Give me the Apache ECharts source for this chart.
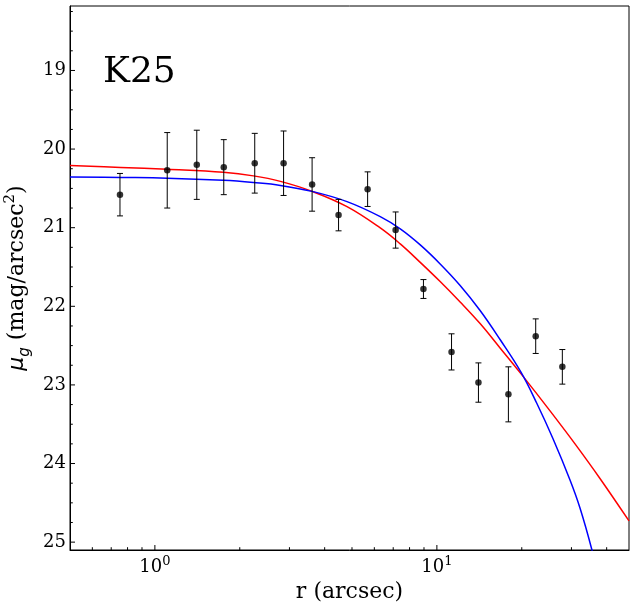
<!DOCTYPE html>
<html>
<head>
<meta charset="utf-8">
<script src="https://cdn.jsdelivr.net/npm/echarts@6/dist/echarts.min.js"></script>
<style>
html, body { margin: 0; padding: 0; background: #fff; }
#chart { width: 634px; height: 608px; }
</style>
</head>
<body>
<div id="chart"></div>
<script>
// measured profile (r in arcsec, mu_g in mag/arcsec^2)
var radius = [0.752, 1.106, 1.408, 1.755, 2.26, 2.86, 3.61, 4.48, 5.68, 7.14, 8.96, 11.27, 14.04, 17.93, 22.41, 27.85];
var mu     = [20.58, 20.27, 20.20, 20.23, 20.18, 20.18, 20.45, 20.84, 20.51, 21.03, 21.78, 22.58, 22.97, 23.12, 22.38, 22.77];
var muErr  = [0.27, 0.48, 0.44, 0.35, 0.38, 0.41, 0.34, 0.20, 0.22, 0.23, 0.12, 0.23, 0.25, 0.35, 0.22, 0.22];

// fitted models
var redR   = [0.5, 0.756, 1.106, 1.751, 2.236, 2.787, 3.610, 4.800, 6.298, 7.415, 8.729, 10.27, 12.09, 14.23, 16.75, 19.89, 25.19, 30.89, 37.87, 48];
var redMu  = [20.21, 20.233, 20.258, 20.296, 20.341, 20.411, 20.538, 20.732, 21.003, 21.206, 21.441, 21.685, 21.945, 22.22, 22.53, 22.86, 23.33, 23.75, 24.19, 24.73];
var blueR  = [0.5, 0.756, 1.106, 1.751, 2.236, 2.787, 3.610, 4.800, 6.298, 7.415, 8.729, 10.27, 12.09, 14.23, 16.75, 19.89, 22.65, 25.81, 29.65, 32.17, 35.39, 37.87];
var blueMu = [20.354, 20.361, 20.37, 20.398, 20.426, 20.462, 20.538, 20.668, 20.859, 21.015, 21.219, 21.461, 21.735, 22.053, 22.422, 22.84, 23.24, 23.685, 24.209, 24.565, 25.087, 25.541];

// ticks
var xMajorTicks = [1, 10];
var xMinorTicks = [0.6, 0.7, 0.8, 0.9, 2, 3, 4, 5, 6, 7, 8, 9, 20, 30, 40];
var yMajorTicks = [19, 20, 21, 22, 23, 24, 25];
var yMinorTicks = [18.25, 18.5, 18.75, 19.25, 19.5, 19.75, 20.25, 20.5, 20.75, 21.25, 21.5, 21.75,
                   22.25, 22.5, 22.75, 23.25, 23.5, 23.75, 24.25, 24.5, 24.75];

var xMin = 0.5, xMax = 48, yMin = 18.18, yMax = 25.1;
var serif = 'DejaVu Serif';

function pairs(a, b) {
    return a.map(function (v, i) { return [v, b[i]]; });
}

var xTickData = xMajorTicks.map(function (v) { return [v, 20, 1]; })
    .concat(xMinorTicks.map(function (v) { return [v, 20, 0]; }));
var yTickData = yMajorTicks.map(function (v) { return [1, v, 1]; })
    .concat(yMinorTicks.map(function (v) { return [1, v, 0]; }));

function ln(x1, y1, x2, y2) {
    return { type: 'line', shape: { x1: x1, y1: y1, x2: x2, y2: y2 }, style: { stroke: '#000', lineWidth: 1 } };
}

var myChart = echarts.init(document.getElementById('chart'));

var option = {
    animation: false,
    title: {
        text: 'K25',
        left: 103,
        top: 55,
        padding: 0,
        textStyle: { fontFamily: serif, fontSize: 36, fontWeight: 'normal', color: '#000' }
    },
    grid: {
        left: 70, right: 5, top: 6, bottom: 58,
        outerBoundsMode: 'none',
        containLabel: false,
        show: true, borderColor: '#000', borderWidth: 1
    },
    xAxis: {
        type: 'log',
        logBase: 10,
        min: xMin,
        max: xMax,
        axisLine: { show: true, lineStyle: { color: '#000', width: 1 } },
        axisTick: { show: false },
        splitLine: { show: false },
        axisLabel: {
            showMinLabel: false,
            showMaxLabel: false,
            margin: 5,
            color: '#000',
            formatter: function (v) {
                return '{b|10}{s|' + Math.round(Math.log10(v)) + '}';
            },
            rich: {
                b: { fontFamily: serif, fontSize: 18, lineHeight: 24, color: '#000' },
                s: { fontFamily: serif, fontSize: 13, lineHeight: 13, verticalAlign: 'top', color: '#000' }
            }
        },
        name: 'r (arcsec)',
        nameLocation: 'middle',
        nameGap: 26,
        nameTextStyle: { fontFamily: serif, fontSize: 22, color: '#000' }
    },
    yAxis: {
        type: 'value',
        inverse: true,
        min: yMin,
        max: yMax,
        splitNumber: 7,
        axisLine: { show: true, lineStyle: { color: '#000', width: 1 } },
        axisTick: { show: false },
        splitLine: { show: false },
        axisLabel: {
            showMinLabel: false,
            showMaxLabel: false,
            margin: 4,
            fontFamily: serif,
            fontSize: 18,
            color: '#000'
        },
        name: '{it|μ}{sub|g} (mag/arcsec{sup|2})',
        nameLocation: 'middle',
        nameGap: 34,
        nameTextStyle: {
            fontFamily: serif, fontSize: 22, color: '#000', lineHeight: 30,
            rich: {
                it: { fontFamily: 'DejaVu Sans', fontStyle: 'italic', fontSize: 22, lineHeight: 30, color: '#000' },
                sub: { fontFamily: 'DejaVu Sans', fontStyle: 'italic', fontSize: 15, lineHeight: 15, verticalAlign: 'bottom', color: '#000' },
                sup: { fontFamily: serif, fontSize: 15, lineHeight: 15, verticalAlign: 'top', color: '#000' }
            }
        }
    },
    series: [
        {
            name: 'red model',
            type: 'line',
            data: pairs(redR, redMu),
            smooth: 0.4,
            showSymbol: false,
            clip: true,
            lineStyle: { color: '#ff0000', width: 1.5 },
            z: 2
        },
        {
            name: 'blue model',
            type: 'line',
            data: pairs(blueR, blueMu),
            smooth: 0.4,
            showSymbol: false,
            clip: true,
            lineStyle: { color: '#0000ff', width: 1.5 },
            z: 2
        },
        {
            name: 'errors',
            type: 'custom',
            data: radius.map(function (r, i) { return [r, mu[i], muErr[i]]; }),
            encode: { x: 0, y: 1 },
            renderItem: function (params, api) {
                var x = api.value(0), y = api.value(1), e = api.value(2);
                var t = api.coord([x, y - e]);
                var b = api.coord([x, y + e]);
                var c = 3;
                return {
                    type: 'group',
                    children: [
                        ln(t[0], t[1], b[0], b[1]),
                        ln(t[0] - c, t[1], t[0] + c, t[1]),
                        ln(b[0] - c, b[1], b[0] + c, b[1])
                    ]
                };
            },
            z: 3
        },
        {
            name: 'data',
            type: 'scatter',
            data: pairs(radius, mu),
            symbolSize: 6.5,
            itemStyle: { color: '#000' },
            z: 4
        },
        {
            name: 'xticks',
            type: 'custom',
            data: xTickData,
            encode: { x: 0, y: 1 },
            silent: true,
            renderItem: function (params, api) {
                var cs = params.coordSys;
                var p = api.coord([api.value(0), api.value(1)]);
                var len = api.value(2) ? 5 : 2.8;
                var b = cs.y + cs.height;
                return ln(p[0], b, p[0], b - len);
            },
            z: 5
        },
        {
            name: 'yticks',
            type: 'custom',
            data: yTickData,
            encode: { x: 0, y: 1 },
            silent: true,
            renderItem: function (params, api) {
                var cs = params.coordSys;
                var p = api.coord([api.value(0), api.value(1)]);
                var len = api.value(2) ? 5 : 2.8;
                return ln(cs.x, p[1], cs.x + len, p[1]);
            },
            z: 5
        }
    ]
};
myChart.setOption(option);
</script>
</body>
</html>
